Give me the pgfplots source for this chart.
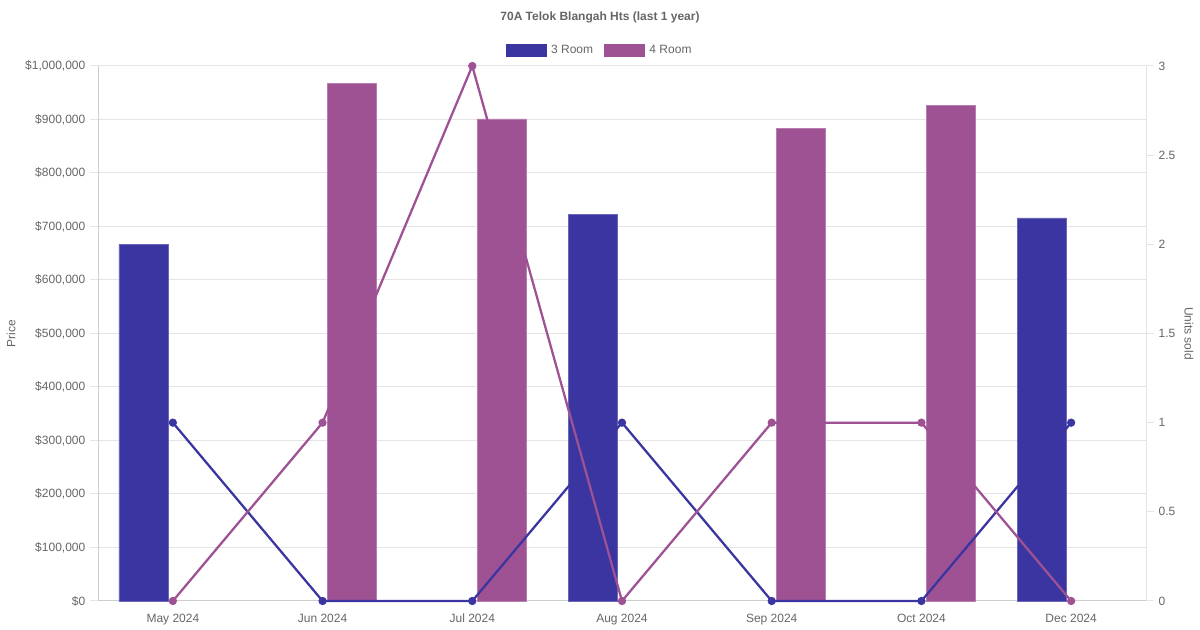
\documentclass[border=0pt]{standalone}
\usepackage{pgfplots}
\pgfplotsset{compat=1.18}
\usepackage{fontspec}
\setmainfont{Liberation Sans}
\definecolor{cthree}{RGB}{58,53,160}
\definecolor{cfour}{RGB}{158,81,147}
\definecolor{tk}{RGB}{102,102,102}
\definecolor{gr}{RGB}{229,229,229}
\definecolor{bl}{RGB}{205,205,205}
\pgfplotsset{
  base/.style={
    scale only axis, width=786pt, height=401.25pt,
    at={(73.5pt,21.75pt)}, anchor=south west,
    xmin=-0.5, xmax=6.5, clip=false,
    scaled y ticks=false, scaled x ticks=false,
    tick label style={font=\fontsize{9}{11}\selectfont, text=tk},
    label style={font=\fontsize{9}{11}\selectfont, text=tk},
  }
}
\begin{document}
\begin{tikzpicture}
\path[fill=white] (0,0) rectangle (900pt,472.5pt);
\node[font=\bfseries\fontsize{9}{11}\selectfont, text=tk] at (450pt,459.75pt) {70A Telok Blangah Hts (last 1 year)};
% axis 1: grid, left axis, x labels
\begin{axis}[base,
  ymin=0, ymax=1000000,
  axis x line*=bottom, axis y line*=left,
  axis line style={bl, line width=0.75pt},
  xtick={0,1,2,3,4,5,6},
  xticklabels={May 2024,Jun 2024,Jul 2024,Aug 2024,Sep 2024,Oct 2024,Dec 2024},
  x tick style={draw=none},
  ytick={0,100000,200000,300000,400000,500000,600000,700000,800000,900000,1000000},
  yticklabels={{\$0},{\$100,000},{\$200,000},{\$300,000},{\$400,000},{\$500,000},{\$600,000},{\$700,000},{\$800,000},{\$900,000},{\$1,000,000}},
  y tick style={gr, line width=0.75pt},
  tick align=outside, major tick length=6pt,
  ymajorgrids, grid style={gr, line width=0.75pt},
  ylabel={Price},
  ylabel style={at={(axis description cs:-0.083,0.5)}, anchor=center},
]
\addplot[draw=none] coordinates {(0,0)};
\end{axis}
% axis 3: bars
\begin{axis}[base,
  ymin=0, ymax=1000000,
  hide axis,
  ybar, bar width=0.327,
  legend style={at={(axis description cs:0.479,1.0299)}, anchor=center,
    draw=none, fill=none, legend columns=2,
    font=\fontsize{9}{11}\selectfont, text=tk,
    /tikz/every even column/.append style={column sep=6.25pt},
    /tikz/every odd column/.append style={column sep=1.5pt}},
]
\addplot[fill=cthree, draw=cthree!75!white, line width=0.5pt, bar shift=-0.197,
  legend image code/.code={\fill[cthree] (0pt,-4.5pt) rectangle (30pt,4.5pt);}]
  coordinates {(0,667000) (3,723000) (6,716000)};
\addlegendentry{3 Room}
\addplot[fill=cfour, draw=cfour!75!white, line width=0.5pt, bar shift=0.197,
  legend image code/.code={\fill[cfour] (0pt,-4.5pt) rectangle (30pt,4.5pt);}]
  coordinates {(1,968000) (2,901000) (4,884000) (5,927000)};
\addlegendentry{4 Room}
\end{axis}
% axis 2: right axis, units sold lines (drawn on top of bars)
\begin{axis}[base,
  ymin=0, ymax=3,
  axis x line=none, axis y line*=right,
  axis line style={gr, line width=0.75pt},
  ytick={0,0.5,1,1.5,2,2.5,3},
  yticklabels={0,0.5,1,1.5,2,2.5,3},
  y tick style={gr, line width=0.75pt},
  tick align=outside, major tick length=6pt,
  ylabel={Units sold},
  ylabel style={at={(axis description cs:1.041,0.5)}, anchor=center, rotate=180},
]
\addplot[cthree, line width=1.7pt, mark=*, mark size=2.2pt, mark options={fill=cthree, draw=cthree}] coordinates {
  (0,1) (1,0) (2,0) (3,1) (4,0) (5,0) (6,1)};
\addplot[cfour, line width=1.7pt, mark=*, mark size=2.2pt, mark options={fill=cfour, draw=cfour}] coordinates {
  (0,0) (1,1) (2,3) (3,0) (4,1) (5,1) (6,0)};
\end{axis}
\end{tikzpicture}
\end{document}
